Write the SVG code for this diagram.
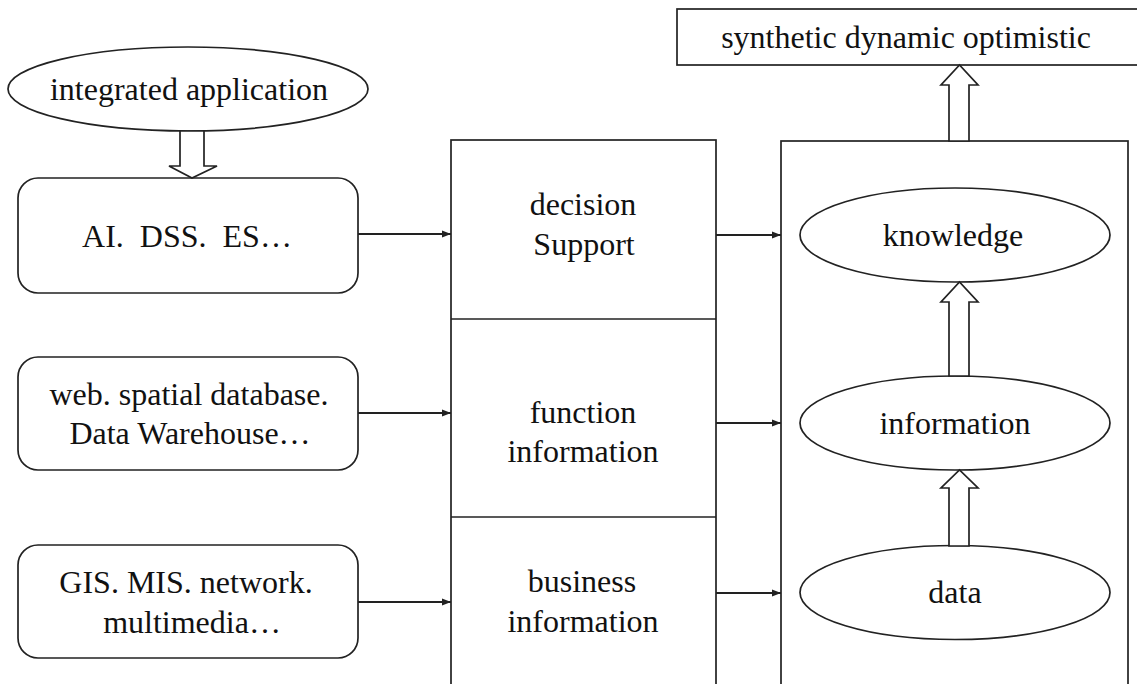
<svg xmlns="http://www.w3.org/2000/svg" width="1137" height="684" viewBox="0 0 1137 684">
<style>
.s{fill:#fff;stroke:#222;stroke-width:1.7}
.t{font-family:"Liberation Serif","Times New Roman",serif;font-size:32px;fill:#111;text-anchor:middle;white-space:pre}
.c{stroke:#222;stroke-width:1.8;fill:none;marker-end:url(#ah)}
</style>
<defs>
<marker id="ah" viewBox="0 0 10 10" refX="10" refY="5" markerWidth="11" markerHeight="9" markerUnits="userSpaceOnUse" orient="auto">
<path d="M0,1 L10,5 L0,9 Z" fill="#222"/>
</marker>
</defs>
<rect width="1137" height="684" fill="#fff"/>
<g id="top-box">
<rect class="s" x="677" y="9" width="470" height="56"/>
<text class="t" x="906" y="48">synthetic dynamic optimistic</text>
</g>
<g id="integrated">
<ellipse class="s" cx="188" cy="89" rx="180" ry="42"/>
<text class="t" x="189" y="100">integrated application</text>
</g>
<g id="box-ai">
<rect class="s" x="18" y="178" width="340" height="115" rx="20"/>
<text class="t" x="187" y="247">AI.  DSS.  ES…</text>
</g>
<g id="box-web">
<rect class="s" x="18" y="357" width="340" height="113" rx="20"/>
<text class="t" x="189" y="405">web. spatial database.</text>
<text class="t" x="190" y="444">Data Warehouse…</text>
</g>
<g id="box-gis">
<rect class="s" x="18" y="545" width="340" height="113" rx="20"/>
<text class="t" x="186" y="593">GIS. MIS. network.</text>
<text class="t" x="192" y="633">multimedia…</text>
</g>
<g id="middle">
<rect class="s" x="451" y="140" width="265" height="560"/>
<line class="s" x1="451" y1="319" x2="716" y2="319"/>
<line class="s" x1="451" y1="517" x2="716" y2="517"/>
<text class="t" x="583" y="215">decision</text>
<text class="t" x="584" y="255">Support</text>
<text class="t" x="583" y="423">function</text>
<text class="t" x="583" y="462">information</text>
<text class="t" x="582" y="592">business</text>
<text class="t" x="583" y="632">information</text>
</g>
<g id="right">
<rect class="s" x="781" y="141" width="347" height="560"/>
</g>
<g id="knowledge">
<ellipse class="s" cx="955" cy="235" rx="155" ry="47"/>
<text class="t" x="953" y="246">knowledge</text>
</g>
<g id="information">
<ellipse class="s" cx="955" cy="423" rx="155" ry="47"/>
<text class="t" x="955" y="434">information</text>
</g>
<g id="data">
<ellipse class="s" cx="955" cy="592.5" rx="155" ry="47"/>
<text class="t" x="955" y="603">data</text>
</g>
<g id="connectors">
<polygon class="s" points="180,131 204,131 204,166 217,166 192,178 169,166 180,166"/>
<polygon class="s" points="949,141 969,141 969,85 978,85 959.5,65 941,85 949,85"/>
<polygon class="s" points="949,376 969,376 969,302 978,302 959.5,282 941,302 949,302"/>
<polygon class="s" points="949,546 969,546 969,488 978,488 959.5,470 941,488 949,488"/>
<line class="c" x1="358" y1="234" x2="451" y2="234"/>
<line class="c" x1="358" y1="413" x2="451" y2="413"/>
<line class="c" x1="358" y1="602" x2="451" y2="602"/>
<line class="c" x1="716" y1="235" x2="781" y2="235"/>
<line class="c" x1="716" y1="423" x2="781" y2="423"/>
<line class="c" x1="716" y1="593" x2="781" y2="593"/>
</g>
</svg>
